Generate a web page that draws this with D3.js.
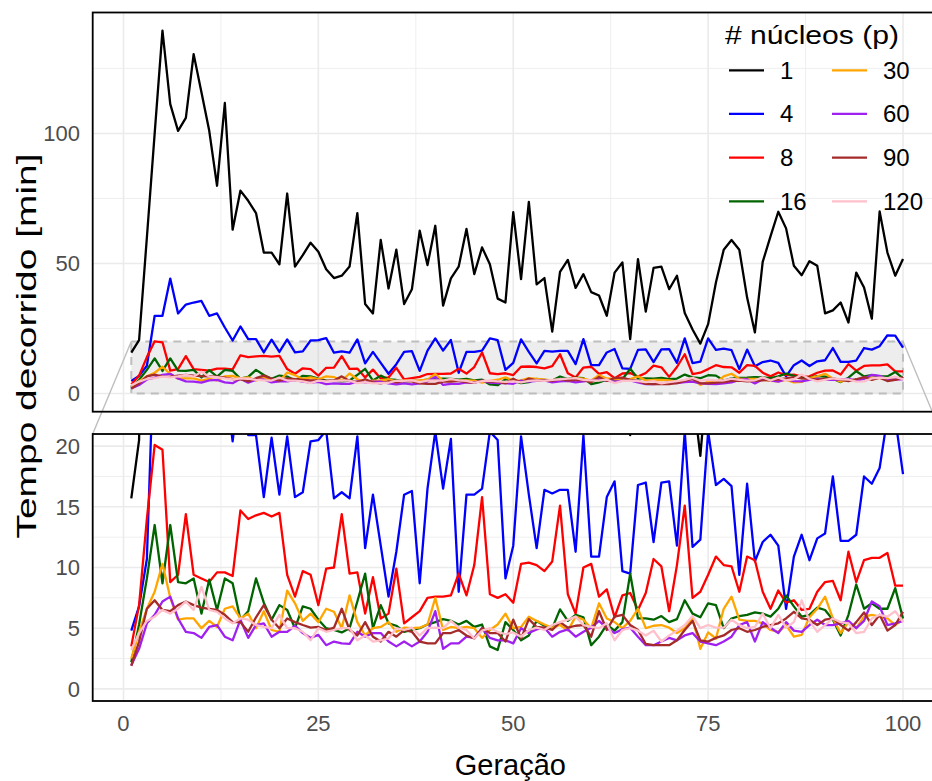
<!DOCTYPE html>
<html>
<head>
<meta charset="utf-8">
<script src="https://cdn.jsdelivr.net/npm/d3@7"></script>
<style>
  body { margin: 0; background: #fff; }
  text { font-family: "Liberation Sans", Arial, sans-serif; }
</style>
</head>
<body>
<svg id="chart" width="932" height="781"></svg>
<script>
// generations on the x axis
var generations = d3.range(1, 101);

// elapsed time [min] per generation, one array per number of cores
var t1 = [15.7, 20.5, 60, 100, 139.5, 111.3, 101, 106, 130.5, 115.8,
  101, 79.9, 111.7, 63, 78, 74.1, 69.4, 54.2, 54.2, 49.7,
  76.9, 48.8, 53.2, 58, 54.5, 47.8, 44.4, 45.3, 48.8, 69.4,
  34.4, 30.8, 59.1, 40.4, 55.3, 34.4, 40.1, 62.6, 49.4, 64.5,
  33.8, 44.3, 48.8, 63.3, 45.9, 56.2, 49.7, 36.5, 35, 69.7,
  44, 73.7, 42, 44.4, 23.8, 46.8, 51.4, 40.6, 45.9, 39,
  37.7, 29.9, 46.5, 50.4, 20.9, 51.7, 31.5, 48.3, 48.8, 40.1,
  45.3, 31, 24.6, 19.2, 26.7, 42.7, 55.3, 59, 55.3, 36.9,
  23.5, 50.6, 60.4, 69.9, 63.5, 49.1, 45.5, 50.9, 49.1, 30.8,
  32, 35, 27.3, 46.5, 40.8, 28.8, 70, 54.2, 45.3, 51.7];
var t4 = [4.8, 6.8, 10.7, 29.9, 29.9, 44.2, 30.8, 34.2, 35, 35.6,
  29.9, 30.8, 25.4, 20.4, 25.8, 20.9, 20.9, 15.8, 20.7, 16,
  20.8, 15.8, 16.2, 20.4, 20.5, 21.3, 15.7, 16.2, 15.7, 20.8,
  11.6, 16, 11.8, 7.6, 11.3, 16, 16.3, 8.7, 16.5, 21.2,
  16.5, 20.6, 8, 16, 16, 16.5, 21.2, 20.5, 9.1, 11.8,
  20.8, 16, 11.6, 16.4, 16.1, 16.4, 16.4, 11.3, 20.9, 10.9,
  10.9, 15.8, 17.1, 9.7, 9.5, 16.8, 17, 12.1, 17, 17.1,
  11.8, 21.2, 11.7, 12.3, 21.2, 16.8, 17.3, 16.7, 9.4, 16.9,
  10.5, 12.1, 12.7, 11.8, 6.6, 10.9, 12.7, 10.6, 12.4, 12.8,
  17.5, 12.2, 12.2, 12.7, 17.5, 16.9, 18.2, 22.4, 22.3, 17.7];
var t8 = [3.5, 6.9, 14, 20.1, 19.7, 8.8, 9.4, 14.4, 9.4, 9.1,
  8.8, 9.6, 9.6, 9.3, 14.7, 14, 14.3, 14.5, 14.2, 14.5,
  9.4, 7.6, 9.7, 9.4, 6.9, 9.9, 10, 14.4, 9.5, 9.6,
  6.2, 9.2, 5.8, 6.2, 9.9, 5.4, 5.9, 6.4, 7.5, 7.6,
  7.6, 7.7, 9.5, 7.7, 10.2, 15.8, 7.8, 7.5, 7.8, 7.1,
  10.3, 10.4, 10.2, 9.7, 10.5, 15.1, 7.8, 6.2, 10, 10.3,
  7.6, 8.2, 5.9, 7.7, 7.9, 6.5, 7.9, 10.7, 10.1, 6.4,
  10.2, 15.1, 7.5, 8, 9.4, 10.9, 10.2, 10.1, 8, 10.9,
  10.6, 8, 6.6, 8.1, 7.1, 7.3, 6.5, 6.6, 8, 8.8,
  8.9, 7.3, 11.3, 8.8, 10.6, 10.8, 10.8, 11.2, 8.5, 8.5];
var t16 = [2.2, 5.3, 9.1, 13.5, 8.7, 13.5, 8.8, 8.7, 9.1, 6.2,
  9, 6.5, 9.1, 8.7, 5.7, 6.4, 9.1, 7.1, 5.7, 6.9,
  6.5, 5, 6.8, 6.6, 5.7, 5, 4.85, 4.65, 5, 7.2,
  9.5, 5, 6.9, 5.4, 5.2, 4.7, 4.85, 5, 5.3, 5.5,
  5.75, 5.6, 5.3, 5.6, 5.1, 5.3, 3.5, 3.2, 5.5, 4.85,
  4, 4.4, 5.6, 5.2, 5, 6.55, 5.6, 6.1, 5.9, 3.6,
  4.3, 5.3, 4.8, 5.5, 9.5, 5.8, 5.8, 5.7, 6, 5.5,
  5.75, 7.3, 6.2, 5.9, 7.05, 6.9, 5, 5.8, 6, 6.1,
  6.3, 6.2, 5.95, 6.6, 7.7, 6.8, 5.95, 6.1, 6.7, 6.5,
  5.7, 4.4, 6.1, 8.6, 6.6, 7.05, 6.6, 6.6, 8.3, 5.8];
var t30 = [2.5, 4.7, 6.6, 8, 10.3, 7.5, 5.7, 5.8, 5.8, 5,
  5.6, 5.1, 6.6, 6.8, 5.8, 6.2, 5, 6.4, 4.85, 4.7,
  8.1, 7.05, 5.6, 6.2, 5.5, 6.6, 6.35, 5, 7.7, 5.5,
  4.4, 5, 5.1, 5.5, 4.7, 5.04, 5, 5.04, 5.3, 7.5,
  4.85, 5.1, 5, 5.1, 5, 4.2, 4.85, 5.3, 6.2, 5,
  5.1, 5.95, 5.6, 5.3, 5.04, 5.26, 4.8, 5.95, 5.7, 5,
  7.05, 5.8, 5.5, 5, 5.6, 6.6, 5, 5.2, 5.26, 5.04,
  4.6, 5, 5.8, 3.3, 4.65, 4.15, 6.6, 7.6, 5.7, 5.6,
  5.6, 5.4, 4.85, 4.7, 5.26, 4.3, 4.45, 5.9, 6.6, 7.6,
  5.8, 4.6, 5.5, 5, 5.95, 6.1, 5.95, 5.8, 5.26, 5.7];
var t60 = [1.95, 3.3, 5.4, 6.1, 7.2, 7.6, 5.8, 4.7, 4.6, 4.2,
  5.1, 5.26, 4.3, 4, 5.7, 4.2, 5.26, 5.4, 4.3, 4.7,
  4.7, 5.2, 4.6, 4.2, 4.45, 3.6, 3.9, 3.75, 3.7, 4.7,
  4.3, 4.6, 4.6, 3.9, 3.5, 3.9, 3.5, 3.9, 4.7, 6.4,
  3.3, 3.75, 3.75, 4.3, 4.2, 5, 4.2, 4, 4, 3.75,
  5, 4.6, 4.9, 5.04, 4.3, 4.7, 4.9, 4.3, 4.7, 5.04,
  5.6, 5, 4.6, 4.9, 5.04, 4.3, 3.6, 3.6, 3.9, 4.2,
  4, 4.4, 4.6, 3.9, 3.75, 3.6, 3.9, 4.3, 5.26, 5.5,
  3.9, 5.5, 5.04, 4.6, 5.5, 4.8, 4.7, 5.26, 5.7, 5.26,
  5.26, 5.4, 5.6, 5, 5.6, 7.2, 6.8, 5.26, 5.4, 5.6];
var t90 = [1.9, 3.9, 6.6, 7.3, 6.5, 6.4, 6.9, 7.2, 6.9, 6.7,
  6.6, 6.5, 6.1, 5.5, 5.5, 4.7, 5.9, 6.9, 5.7, 5,
  5.8, 5.5, 5.26, 5.04, 5.1, 4.85, 5.04, 6.6, 4.85, 4.4,
  5.5, 4.3, 3.9, 4.7, 4.3, 4.85, 4.7, 3.9, 3.75, 3.75,
  4.6, 4.6, 4.85, 4.4, 4.15, 5, 4.6, 4.6, 3.9, 5.7,
  4.15, 5.75, 5.1, 5.04, 4.85, 5.5, 5.04, 5.2, 5.26, 4.3,
  6.4, 4.85, 5.95, 6.1, 5.26, 4.85, 3.7, 3.6, 3.6, 3.6,
  4, 4.85, 5.6, 4, 3.9, 4.2, 4.4, 4.85, 5, 4.7,
  4.85, 5.1, 5.26, 5.4, 5.8, 6.35, 5.8, 5.7, 5.26, 5.7,
  5.8, 5.26, 4.8, 5.5, 6.3, 5.26, 6.1, 4.8, 5.26, 6.35];
var t120 = [3.2, 4.6, 5.6, 5.95, 6.5, 6.2, 6.6, 7.2, 6.5, 8.4,
  6.5, 6.35, 5.8, 5.4, 5.8, 5.7, 5.26, 5.1, 5, 6.1,
  5, 5, 4.7, 4, 5, 4.7, 4.85, 5, 5, 4,
  4.4, 3.9, 4, 4.15, 5, 4.85, 5.04, 4.4, 5, 5.04,
  5, 5.6, 5.04, 4.85, 4.15, 4.8, 5, 4.7, 4.5, 4.65,
  4.3, 4.85, 5.04, 4.85, 5.26, 5.5, 5.7, 5.95, 5.26, 5.1,
  5, 5.4, 4, 4.85, 5, 4.8, 4.4, 4.8, 3.9, 4.4,
  4.8, 5.26, 6, 5, 5.26, 5.04, 5.04, 5.7, 5.26, 5,
  5.1, 6.2, 5, 6.1, 5.04, 5.5, 7.3, 5.6, 4.7, 5.26,
  5.8, 5.5, 5.4, 4.6, 4.7, 5.8, 6.1, 5.95, 6.4, 5.5];

var coreLabels = ["1", "4", "8", "16", "30", "60", "90", "120"];
var coreColors = ["#000000", "#0000FF", "#FF0000", "#006400", "#FFA500", "#A020F0", "#A52A2A", "#FFC0CB"];
var coreValues = [t1, t4, t8, t16, t30, t60, t90, t120];

var xTicks = [0, 25, 50, 75, 100];
var topTicks = [0, 50, 100];
var bottomTicks = [0, 5, 10, 15, 20];
var zoomRange = [0, 20];

var series = coreLabels.map(function(label, i) {
  return {
    label: label,
    color: coreColors[i],
    points: generations.map(function(g, j) { return {g: g, v: coreValues[i][j]}; })
  };
});

var svg = d3.select("#chart");

// panels (right edge runs past the picture, like the original)
var left = 92.7, right = 941.6;
var x = d3.scaleLinear().domain([-3.95, 104.95]).range([left, right]);
var yTop = d3.scaleLinear().domain([-6.98, 146.5]).range([411.7, 12.5]);
var yBottom = d3.scaleLinear().domain([-1, 21]).range([701, 434]);

var gridColor = "#EBEBEB";

function drawPanel(y, ticks, id) {
  var top = y.range()[1], bottom = y.range()[0];
  var g = svg.append("g");

  svg.append("clipPath").attr("id", id)
    .append("rect")
      .attr("x", left).attr("y", top)
      .attr("width", right - left).attr("height", bottom - top);

  var step = ticks[1] - ticks[0];
  var minorY = ticks.map(d => d + step / 2).filter(d => y(d) > top);
  var minorX = [12.5, 37.5, 62.5, 87.5];

  g.selectAll(".minory").data(minorY).enter().append("line")
    .attr("x1", left).attr("x2", right)
    .attr("y1", d => y(d)).attr("y2", d => y(d))
    .attr("stroke", gridColor).attr("stroke-width", 0.8);
  g.selectAll(".minorx").data(minorX).enter().append("line")
    .attr("x1", d => x(d)).attr("x2", d => x(d))
    .attr("y1", top).attr("y2", bottom)
    .attr("stroke", gridColor).attr("stroke-width", 0.8);
  g.selectAll(".majory").data(ticks).enter().append("line")
    .attr("x1", left).attr("x2", right)
    .attr("y1", d => y(d)).attr("y2", d => y(d))
    .attr("stroke", gridColor).attr("stroke-width", 1.6);
  g.selectAll(".majorx").data(xTicks).enter().append("line")
    .attr("x1", d => x(d)).attr("x2", d => x(d))
    .attr("y1", top).attr("y2", bottom)
    .attr("stroke", gridColor).attr("stroke-width", 1.6);

  // y tick labels
  svg.append("g").selectAll("text").data(ticks).enter().append("text")
    .attr("x", 80).attr("y", d => y(d)).attr("dy", "0.36em")
    .attr("text-anchor", "end")
    .attr("fill", "#4D4D4D")
    .style("font-size", "22px")
    .text(d => d);

  return g;
}

var topGrid = drawPanel(yTop, topTicks, "clipTop");
var bottomGrid = drawPanel(yBottom, bottomTicks, "clipBottom");

// zoom indicator in the upper panel
var zx0 = x(1), zx1 = x(100), zy0 = yTop(zoomRange[1]), zy1 = yTop(zoomRange[0]);
svg.append("line")
  .attr("x1", zx0).attr("y1", zy0).attr("x2", left).attr("y2", yBottom.range()[1])
  .attr("stroke", "#BEBEBE").attr("stroke-width", 1.4);
svg.append("line")
  .attr("x1", zx1).attr("y1", zy0).attr("x2", right).attr("y2", yBottom.range()[1])
  .attr("stroke", "#BEBEBE").attr("stroke-width", 1.4);
svg.append("rect")
  .attr("x", zx0).attr("y", zy0)
  .attr("width", zx1 - zx0).attr("height", zy1 - zy0)
  .attr("fill", "#BEBEBE").attr("fill-opacity", 0.28)
  .attr("stroke", "#BEBEBE").attr("stroke-width", 2)
  .attr("stroke-dasharray", "8,6");

// lines
function drawLines(y, clipId) {
  var line = d3.line().x(d => x(d.g)).y(d => y(d.v));
  svg.append("g")
    .attr("clip-path", "url(#" + clipId + ")")
    .selectAll("path").data(series).enter().append("path")
      .attr("d", d => line(d.points))
      .attr("fill", "none")
      .attr("stroke", d => d.color)
      .attr("stroke-width", 2.3)
      .attr("stroke-linejoin", "round");
}
drawLines(yTop, "clipTop");
drawLines(yBottom, "clipBottom");

// panel borders
[yTop, yBottom].forEach(function(y) {
  svg.append("rect")
    .attr("x", left).attr("y", y.range()[1])
    .attr("width", right - left).attr("height", y.range()[0] - y.range()[1])
    .attr("fill", "none").attr("stroke", "#000").attr("stroke-width", 1.8);
});

// x tick labels
svg.append("g").selectAll("text").data(xTicks).enter().append("text")
  .attr("x", d => x(d)).attr("y", 731)
  .attr("text-anchor", "middle")
  .attr("fill", "#4D4D4D")
  .style("font-size", "22px")
  .text(d => d);

// axis titles
svg.append("text")
  .attr("x", (left + 932) / 2 - 2).attr("y", 775)
  .attr("text-anchor", "middle")
  .style("font-size", "29px")
  .text("Geração");

svg.append("text")
  .attr("transform", "translate(36,346) rotate(-90)")
  .attr("text-anchor", "middle")
  .attr("textLength", 385)
  .attr("lengthAdjust", "spacingAndGlyphs")
  .style("font-size", "28px")
  .text("Tempo decorrido [min]");

// legend
var legend = svg.append("g");
legend.append("text")
  .attr("x", 725).attr("y", 44)
  .attr("textLength", 174)
  .attr("lengthAdjust", "spacingAndGlyphs")
  .style("font-size", "26px")
  .text("# núcleos (p)");

var rowY = [70.3, 113.8, 157.7, 201.3];
var item = legend.selectAll(".item").data(series).enter().append("g")
  .attr("transform", (d, i) => "translate(" + (i < 4 ? 729 : 832) + "," + rowY[i % 4] + ")");
item.append("line")
  .attr("x1", 0).attr("x2", 35)
  .attr("stroke", d => d.color).attr("stroke-width", 2.2);
item.append("text")
  .attr("x", 51).attr("dy", "0.36em")
  .style("font-size", "24px")
  .text(d => d.label);
</script>
</body>
</html>
